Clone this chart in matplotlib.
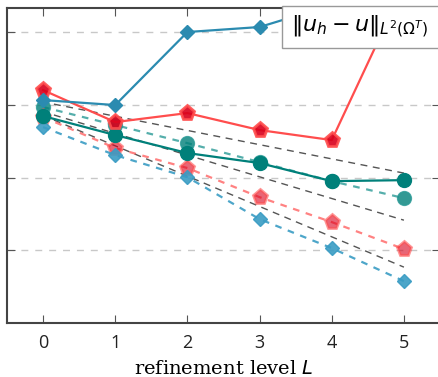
import matplotlib
matplotlib.use('Agg')
import matplotlib.pyplot as plt
from matplotlib.patches import Rectangle

# refinement levels
levels = [0, 1, 2, 3, 4, 5]

# errors, solid series
blue_solid = [0.01161, 0.00991, 0.100, 0.1172, 0.235, 0.38]
red_solid = [0.0159, 0.00578, 0.00769, 0.00449, 0.00327, 0.43]
teal_solid = [0.0070, 0.00383, 0.00217, 0.00158, 0.000891, 0.00092]

# errors, dashed series
teal_dashed = [0.00929, 0.00526, 0.00297, 0.00163, 0.000891, 0.000521]
red_dashed = [0.00678, 0.00254, 0.00135, 0.000537, 0.000244, 0.000104]
blue_dashed = [0.00493, 0.00203, 0.00101, 0.000268, 0.000107, 0.0000376]

# gray reference slopes (start, end)
ref_x = [0.15, 5.0]
ref_a = [0.0102, 0.00115]
ref_b = [0.00724, 0.000259]
ref_c = [0.00617, 0.0000586]

BLUE = '#2b8bb0'
BLUE_L = '#3a9cc4'
RED = '#ff4d4d'
RED_D = '#d9001b'
TEAL = '#00807a'
TEAL_L = '#2a9a96'

W, H = 438, 377
fig = plt.figure(figsize=(W/100, H/100), dpi=100)
ax = fig.add_axes([7/W, 1-323/H, 433/W, 315/H])
ax.set_yscale('log')

for yy in [1e-1, 1e-2, 1e-3, 1e-4]:
    ax.axhline(yy, color='#c8c8c8', lw=1.0, dashes=(5, 5), zorder=0)

for r in [ref_a, ref_b, ref_c]:
    ax.plot(ref_x, r, color='#555555', lw=1.0, dashes=(5, 4), zorder=1)

ax.plot(levels, teal_dashed, color=TEAL_L, lw=1.6, dashes=(3, 3), marker='o', ms=10,
        mfc=TEAL, mec=TEAL_L, alpha=0.8, zorder=2)
ax.plot(levels, red_dashed, color=RED, lw=1.6, dashes=(3, 3), alpha=0.7, zorder=2)
ax.plot(levels, red_dashed, ls='none', marker='p', ms=11, mfc=RED_D, mec=RED, mew=2,
        alpha=0.6, zorder=2)
ax.plot(levels, blue_dashed, color=BLUE_L, lw=1.6, dashes=(3, 3), marker='D', ms=7,
        mfc=BLUE_L, mec=BLUE_L, alpha=0.9, zorder=2)

ax.plot(levels, teal_solid, color=TEAL, lw=1.6, marker='o', ms=10, mfc=TEAL, mec=TEAL, zorder=3)
ax.plot(levels, red_solid, color=RED, lw=1.6, zorder=3)
ax.plot(levels, red_solid, ls='none', marker='p', ms=11, mfc=RED_D, mec=RED, mew=2,
        alpha=0.9, zorder=3)
ax.plot(levels, blue_solid, color=BLUE, lw=1.6, marker='D', ms=7, mfc=BLUE, mec=BLUE, zorder=3)

ax.set_xlim(-0.5, 5.5)
ax.set_ylim(1e-5, 0.214)
ax.set_xticks(levels)
ax.set_xticklabels([str(l) for l in levels], fontsize=13, family='Open Sans')
ax.set_yticks([1e-1, 1e-2, 1e-3, 1e-4])
ax.set_yticks([], minor=True)
ax.set_yticklabels([])
ax.tick_params(direction='in', top=True, right=True, length=6, width=0.8, color='#555555',
               labelcolor='#222222')
ax.tick_params(axis='x', pad=8)
for s in ax.spines.values():
    s.set_color('#444444')
    s.set_linewidth(1.5)

ax.set_xlabel('refinement level $L$', fontsize=14, family='DejaVu Serif', labelpad=6)

# legend-like label box, running off the right edge
fig.patches.append(Rectangle((282/W, 1-48/H), 160/W, 42/H, transform=fig.transFigure,
                             fc='white', ec='#999999', lw=1.0, zorder=10))
fig.text(291/W, 1-27/H, r'$\Vert u_h - u\Vert_{L^2(\Omega^T)}$', fontsize=16,
         ha='left', va='center', zorder=11)

fig.savefig('out.png', dpi=100)
